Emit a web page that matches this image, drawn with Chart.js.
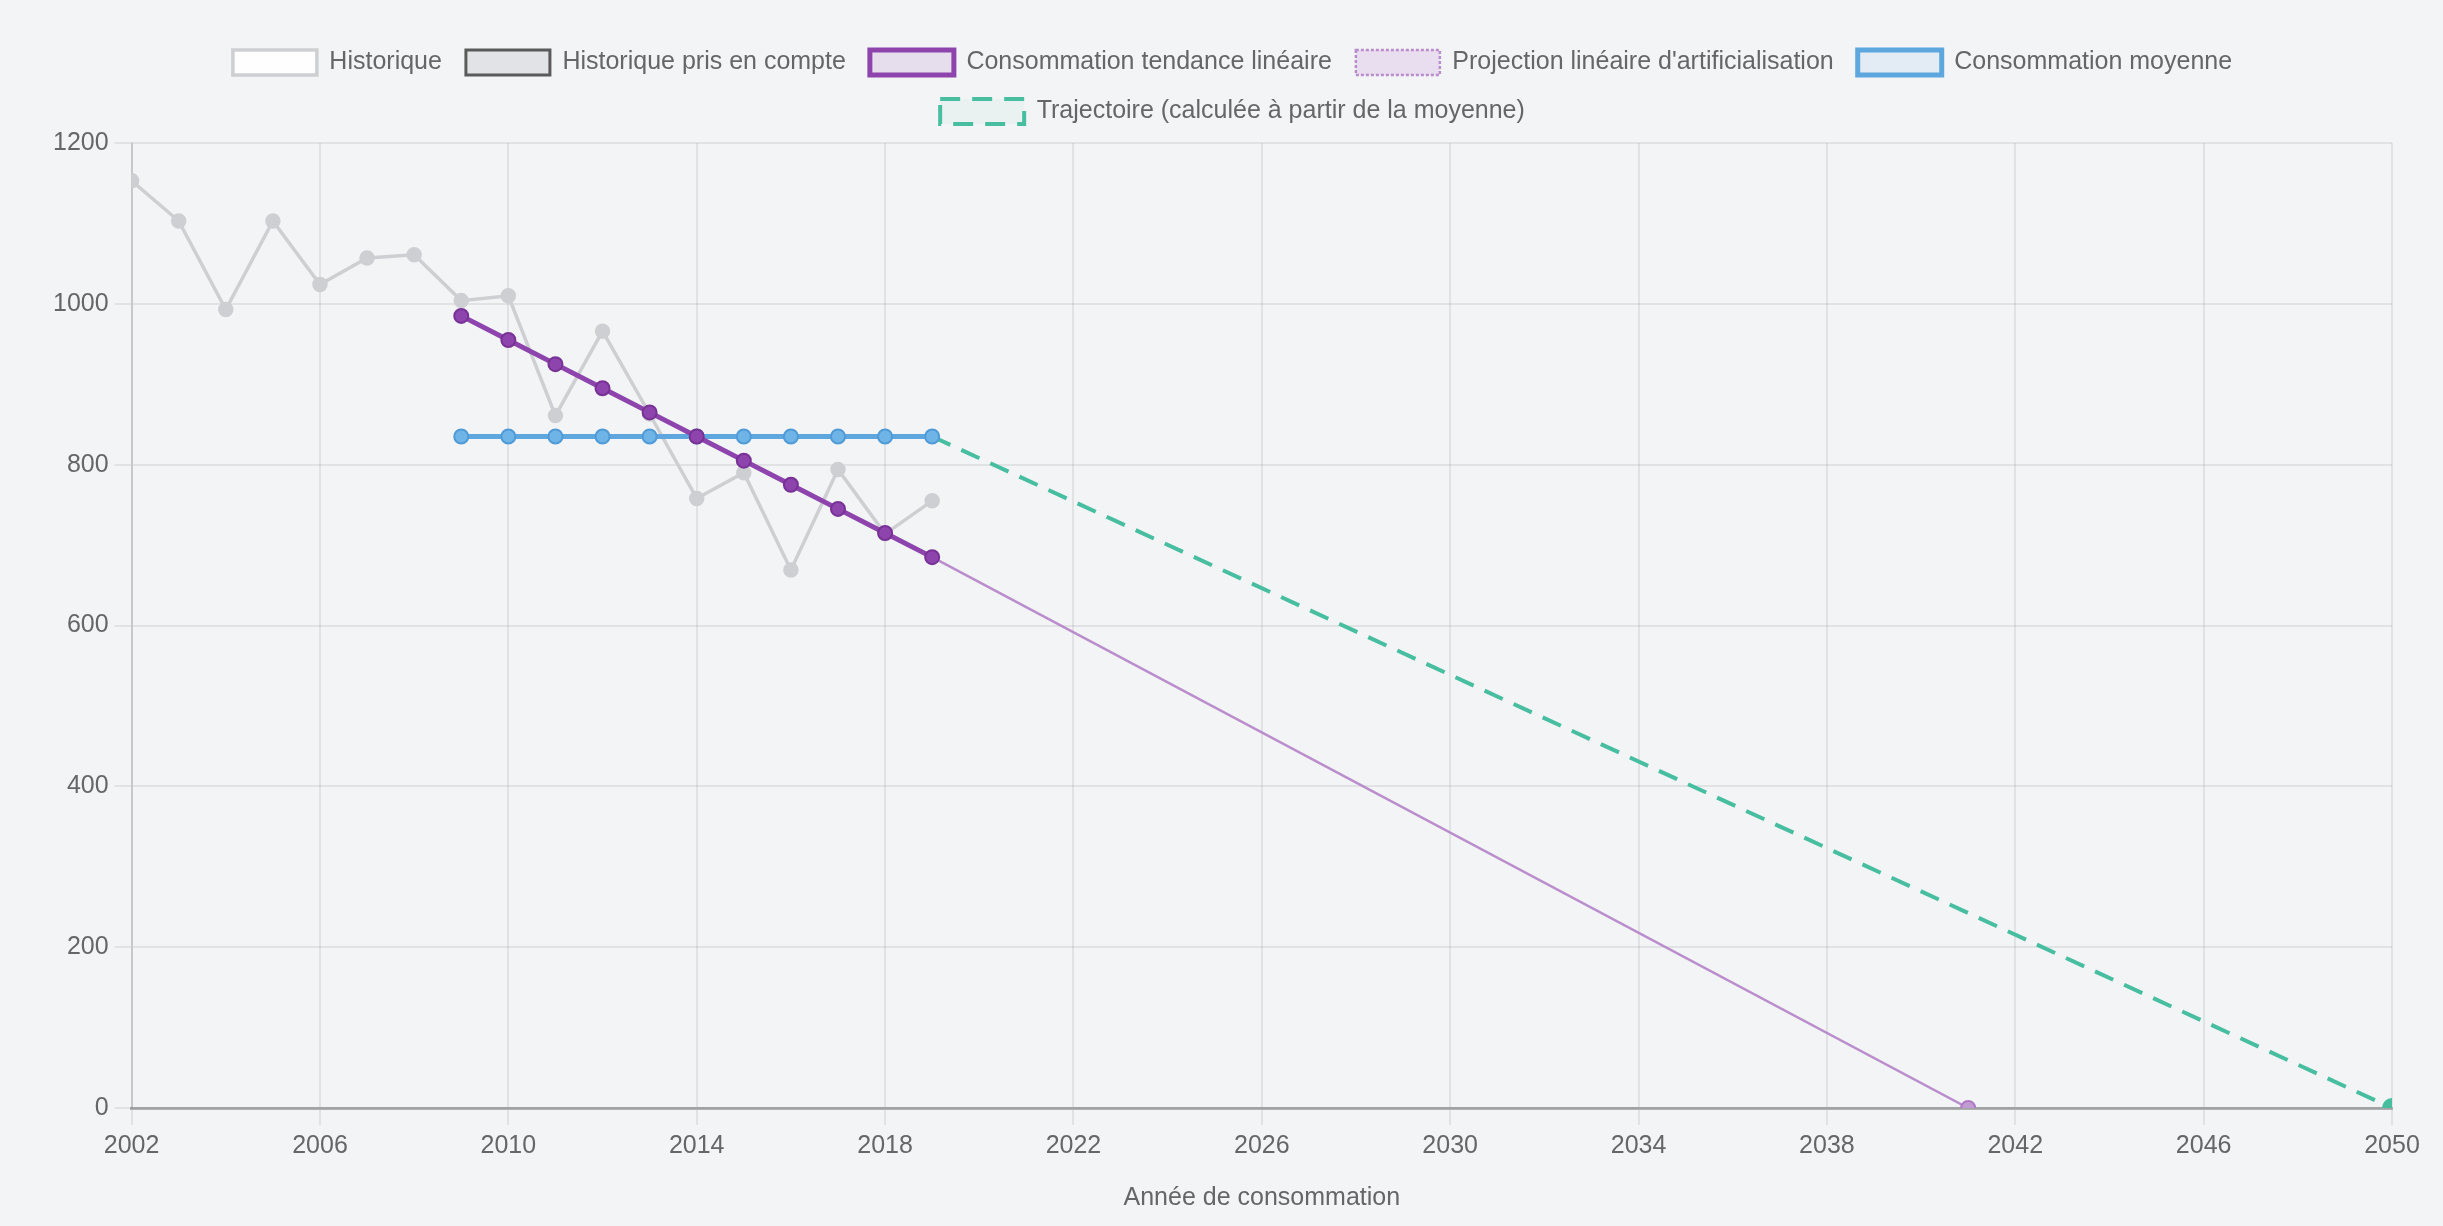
<!DOCTYPE html>
<html lang="fr">
<head>
<meta charset="utf-8">
<title>Consommation d'espaces</title>
<script src="https://cdn.jsdelivr.net/npm/chart.js@4.4.1/dist/chart.umd.min.js"></script>
<style>
  html, body { margin: 0; padding: 0; background: #f3f4f6; }
  #wrap { width: 2443px; height: 1226px; position: relative; }
</style>
</head>
<body>
<div id="wrap"><canvas id="consoChart"></canvas></div>
<script>
// Historique (toutes les années)
const histYears = [2002, 2003, 2004, 2005, 2006, 2007, 2008, 2009, 2010, 2011, 2012, 2013, 2014, 2015, 2016, 2017, 2018, 2019];
const historique = [1153, 1103, 993, 1103, 1024, 1057, 1061, 1004, 1010, 861, 966, 863, 758, 790, 669, 794, 714, 755];

// Période prise en compte
const refYears = [2009, 2010, 2011, 2012, 2013, 2014, 2015, 2016, 2017, 2018, 2019];
const historiquePris = [1004, 1010, 861, 966, 863, 758, 790, 669, 794, 714, 755];
const tendance = [985, 955, 925, 895, 865, 835, 805, 775, 745, 715, 685];
const moyenne = [835, 835, 835, 835, 835, 835, 835, 835, 835, 835, 835];

// Projections
const projectionYears = [2019, 2041];
const projection = [685, 0];
const trajectoireYears = [2019, 2050];
const trajectoire = [835, 0];

// Graduations
const xTickYears = [2002, 2006, 2010, 2014, 2018, 2022, 2026, 2030, 2034, 2038, 2042, 2046, 2050];
const yTickValues = [0, 200, 400, 600, 800, 1000, 1200];

const toPoints = (xs, ys) => xs.map((x, i) => ({ x: x, y: ys[i] }));

Chart.defaults.font.family = "'Liberation Sans', Arial, sans-serif";
Chart.defaults.font.size = 25;
Chart.defaults.color = '#666';

// un peu d'espace sous la légende, et légende légèrement décalée à droite
const legendTweak = {
  id: 'legendTweak',
  beforeInit(chart) {
    const fit = chart.legend.fit;
    chart.legend.fit = function () {
      fit.bind(chart.legend)();
      this.height += 9;
    };
  },
  afterLayout(chart) {
    chart.legend.left += 13;
    chart.legend.right += 13;
  }
};

const ctx = document.getElementById('consoChart').getContext('2d');
const consoChart = new Chart(ctx, {
  type: 'line',
  plugins: [legendTweak],
  data: {
    datasets: [
      {
        label: 'Historique',
        data: toPoints(histYears, historique),
        borderColor: 'rgba(205, 207, 210, 1)',
        backgroundColor: 'rgba(255, 255, 255, 0.9)',
        pointBackgroundColor: 'rgba(205, 207, 210, 1)',
        pointBorderColor: 'rgba(205, 207, 210, 1)',
        borderWidth: 3.5,
        pointRadius: 6,
        order: 5
      },
      {
        label: 'Historique pris en compte',
        data: toPoints(refYears, historiquePris),
        borderColor: 'rgba(90, 90, 90, 1)',
        backgroundColor: 'rgba(225, 227, 230, 1)',
        borderWidth: 3,
        showLine: false,
        pointRadius: 0,
        order: 6
      },
      {
        label: 'Consommation tendance linéaire',
        data: toPoints(refYears, tendance),
        borderColor: 'rgba(142, 68, 173, 1)',
        backgroundColor: 'rgba(142, 68, 173, 0.12)',
        pointBackgroundColor: 'rgba(142, 68, 173, 1)',
        pointBorderColor: 'rgba(120, 50, 150, 1)',
        borderWidth: 5,
        pointRadius: 7,
        pointBorderWidth: 2,
        order: 1
      },
      {
        label: "Projection linéaire d'artificialisation",
        data: toPoints(projectionYears, projection),
        borderColor: 'rgba(180, 130, 200, 0.9)',
        backgroundColor: 'rgba(215, 180, 230, 0.35)',
        pointBackgroundColor: 'rgba(195, 155, 211, 1)',
        pointBorderColor: 'rgba(175, 122, 197, 1)',
        borderWidth: 2.5,
        borderDash: [3, 2],
        segment: { borderDash: () => [] },
        pointRadius: [0, 7],
        pointBorderWidth: 2,
        order: 3
      },
      {
        label: 'Consommation moyenne',
        data: toPoints(refYears, moyenne),
        borderColor: 'rgba(93, 167, 222, 1)',
        backgroundColor: 'rgba(93, 167, 222, 0.1)',
        pointBackgroundColor: 'rgba(110, 180, 230, 1)',
        pointBorderColor: 'rgba(80, 155, 215, 1)',
        borderWidth: 5,
        pointRadius: 7,
        pointBorderWidth: 2,
        order: 2
      },
      {
        label: 'Trajectoire (calculée à partir de la moyenne)',
        data: toPoints(trajectoireYears, trajectoire),
        borderColor: 'rgba(72, 190, 160, 1)',
        backgroundColor: 'rgba(72, 190, 160, 0.05)',
        pointBackgroundColor: 'rgba(72, 190, 160, 1)',
        pointBorderColor: 'rgba(72, 190, 160, 1)',
        borderWidth: 4,
        borderDash: [20, 12],
        pointRadius: [0, 8],
        order: 4
      }
    ]
  },
  options: {
    responsive: true,
    maintainAspectRatio: false,
    devicePixelRatio: 1,
    animation: false,
    layout: {
      padding: { top: 26, left: 47, right: 51, bottom: 13 }
    },
    plugins: {
      legend: {
        position: 'top',
        labels: {
          boxWidth: 84,
          boxHeight: 25,
          padding: 24,
          color: '#666',
          sort: (a, b) => a.datasetIndex - b.datasetIndex
        }
      },
      tooltip: { enabled: false }
    },
    scales: {
      x: {
        type: 'linear',
        min: 2002,
        max: 2050,
        afterBuildTicks: scale => { scale.ticks = xTickYears.map(v => ({ value: v })); },
        ticks: {
          padding: 6,
          callback: v => String(v)
        },
        grid: {
          color: 'rgba(0, 0, 0, 0.07)',
          lineWidth: 2,
          tickLength: 17
        },
        border: {
          color: 'rgba(0, 0, 0, 0.28)',
          width: 3
        },
        title: {
          display: true,
          text: 'Année de consommation',
          color: '#666',
          padding: { top: 16, bottom: 0 }
        }
      },
      y: {
        min: 0,
        max: 1200,
        afterBuildTicks: scale => { scale.ticks = yTickValues.map(v => ({ value: v })); },
        ticks: {
          padding: 6,
          callback: v => String(v)
        },
        grid: {
          color: 'rgba(0, 0, 0, 0.07)',
          lineWidth: 2,
          tickLength: 17
        },
        border: {
          color: 'rgba(0, 0, 0, 0.12)',
          width: 2
        }
      }
    }
  }
});
</script>
</body>
</html>
